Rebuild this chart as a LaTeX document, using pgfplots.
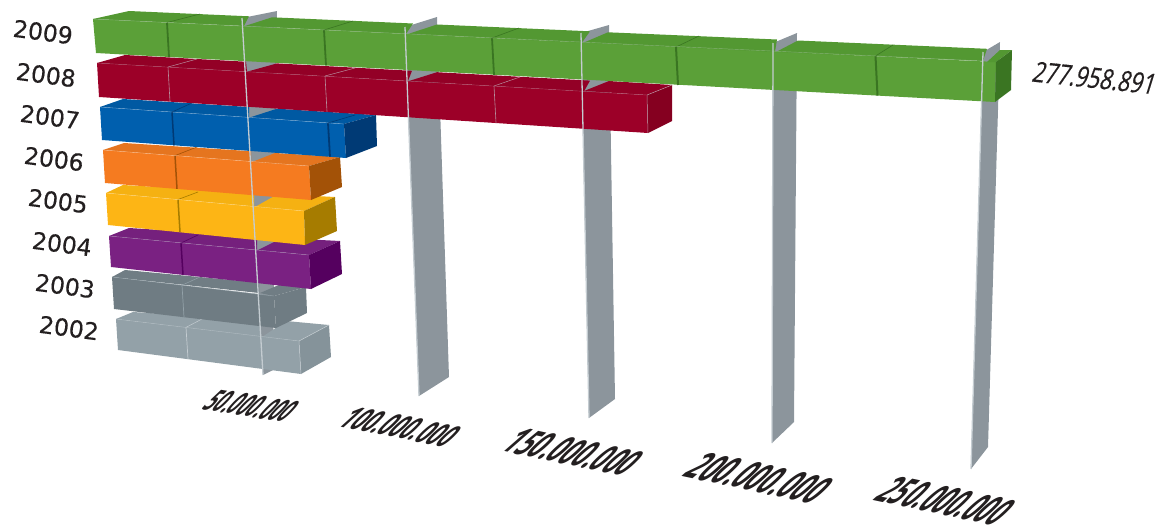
\documentclass[border=0pt]{standalone}
\usepackage{pgfplots}
\pgfplotsset{compat=1.18}
\usepackage{fontspec}
\setmainfont{Open Sans}
\newfontfamily\yearfont[FakeBold=0.35]{DejaVu Sans}
\newfontfamily\valfont[FakeBold=0.4]{Open Sans}
\definecolor{plane}{HTML}{8C959C}
\definecolor{pedge}{HTML}{C4CCD1}
\definecolor{gF}{HTML}{5BA038}\definecolor{gT}{HTML}{539832}\definecolor{gS}{HTML}{3A7522}
\definecolor{rF}{HTML}{9C0028}\definecolor{rT}{HTML}{930026}\definecolor{rS}{HTML}{850020}
\definecolor{bF}{HTML}{005FAE}\definecolor{bT}{HTML}{0059A2}\definecolor{bS}{HTML}{003A75}
\definecolor{oF}{HTML}{F57B20}\definecolor{oT}{HTML}{E5751F}\definecolor{oS}{HTML}{A35207}
\definecolor{yF}{HTML}{FDB515}\definecolor{yT}{HTML}{F5B112}\definecolor{yS}{HTML}{A67C00}
\definecolor{pF}{HTML}{7A2182}\definecolor{pT}{HTML}{75207D}\definecolor{pS}{HTML}{55005F}
\definecolor{dF}{HTML}{6F7C83}\definecolor{dT}{HTML}{707D84}\definecolor{dS}{HTML}{6F7C83}
\definecolor{lF}{HTML}{93A1A8}\definecolor{lT}{HTML}{93A1A8}\definecolor{lS}{HTML}{85939A}
\definecolor{txt}{HTML}{231F20}
\newcommand\poly[2]{\addplot[fill=#1,draw=none] coordinates {#2} -- cycle;}
\newcommand\seg[3]{\addplot[draw=#1,line width=#2] coordinates {#3};}
\newcommand\yearlab[3]{\node[rotate=-7.5,text=txt,font=\yearfont\fontsize{23.5}{24}\selectfont] at (axis cs:#1,#2) {#3};}
\newcommand\ticklab[6]{\node[rotate=#3,xslant=.62,xscale=#4,yscale=#5,transform shape,text=txt,font=\fontsize{20}{20}\selectfont\bfseries\itshape] at (axis cs:#1,#2) {#6};}
\begin{document}
\begin{tikzpicture}
\path[use as bounding box] (0,0) rectangle (1160pt,530pt);
\begin{axis}[scale only axis,width=1160pt,height=530pt,xmin=0,xmax=1160,ymin=0,ymax=530,y dir=reverse,hide axis,clip=false]
% planes
\poly{plane}{(242,18)(277,11)(273,370)(263,375)}
\poly{plane}{(405,27)(437,17)(449,377)(419,396)}
\poly{plane}{(581,33)(609,25)(615,399)(589,418)}
\poly{plane}{(773,43)(797,33)(794,422)(772,443)}
\poly{plane}{(983,52)(1000,42)(988,447)(971,469)}
% 2002
\poly{lF}{(116,319)(299,341)(301,374)(118,350)}
\poly{lT}{(116,319)(133,312)(261,320.4)(261,337)}
\poly{lT}{(262,337)(286,321)(329,325)(299,341)}
\poly{lS}{(299,341)(329,325)(331,357)(301,374)}
\seg{pedge}{.7pt}{(186,327.4)(188,359)}
\seg{pedge}{.5pt}{(186,327.4)(202,319)}
\seg{pedge!60!lF}{.4pt}{(116,319)(299,341)}
\seg{pedge}{.5pt}{(299,341)(329,325)}
\seg{pedge}{.5pt}{(299,341)(301,374)}
% 2003
\poly{dF}{(112,277)(274,296)(276,328)(114,309)}
\poly{dT}{(112,277)(125,270)(259,282.6)(259,293)}
\poly{dT}{(260,293)(281,284)(306,287)(274,296)}
\poly{dS}{(274,296)(306,287)(307,313)(276,328)}
\seg{lF}{.7pt}{(182,285.2)(184,316.9)}
\seg{lF}{.5pt}{(182,285.2)(200,277)}
\seg{lF}{.4pt}{(112,277)(274,296)}
% 2004
\poly{pF}{(109,236)(309,255)(311,289)(111,267)}
\poly{pT}{(109,236)(129,228)(257,236)(257,250)}
\poly{pT}{(258,250)(282,238)(340,241)(309,255)}
\poly{pS}{(309,255)(340,241)(342,274)(311,289)}
\seg{pS}{1.5pt}{(181,243)(183,274.7)}
\seg{pS}{.6pt}{(181,243)(198,235)}
\seg{pedge!50!pF}{.4pt}{(109,236)(309,255)}
% 2005
\poly{yF}{(106,193)(304,211)(305,245)(108,225)}
\poly{yT}{(106,193)(123,185)(254,192.4)(254,206.5)}
\poly{yT}{(255,207)(278,194)(335,197)(304,211)}
\poly{yS}{(304,211)(335,197)(337,231)(305,245)}
\seg{yS}{1.5pt}{(178,199.5)(180,232)}
\seg{yS}{.6pt}{(178,199.5)(198,192)}
\seg{white!50!yF}{.3pt}{(106,193)(304,211)}
% 2006
\poly{oF}{(103,150)(309,166)(311,200)(105,183)}
\poly{oT}{(103,150)(124,143)(251,151.2)(251,161.5)}
\poly{oT}{(252,162)(275,153)(340,157)(309,166)}
\poly{oS}{(309,166)(340,157)(342,187)(311,200)}
\seg{oS}{1.5pt}{(175,155.6)(177,188.8)}
\seg{oS}{.6pt}{(175,155.6)(197,147)}
\seg{white!50!oF}{.3pt}{(103,150)(309,166)}
% 2007
\poly{bF}{(100,107)(344,124)(346,158)(102,140)}
\poly{bT}{(100,107)(123,99)(249,107)(249,117.4)}
\poly{bT}{(250,117.4)(277,108.7)(376,115)(344,124)}
\poly{bS}{(344,124)(376,115)(377,146)(346,158)}
\seg{bS}{1.5pt}{(172,112)(174,145.3)}
\seg{bS}{.6pt}{(172,112)(192,103)}
\seg{bS}{1.8pt}{(328,123)(330,156.7)}
\seg{bS}{.6pt}{(328,123)(355,115)}
\seg{white!50!bF}{.3pt}{(100,107)(344,124)}
% 2008
\poly{rF}{(97,63)(647,95)(648,133)(99,97)}
\poly{rT}{(97,63)(125,55)(246,61.7)(247,71.7)}
\poly{rT}{(247,71.7)(277,63.4)(412,70.8)(408,81)}
\poly{rT}{(409,81)(437,72.2)(590,80.6)(584,91.4)}
\poly{rT}{(584,91)(609,81)(672,85)(647,95)}
\poly{rS}{(647,95)(672,85)(672,121)(648,133)}
\seg{pedge!70!rF}{.6pt}{(168,67)(170,101.6)}
\seg{pedge!70!rF}{.5pt}{(168,67)(197,59)}
\seg{pedge!70!rF}{.6pt}{(325,76)(327,111.6)}
\seg{pedge!70!rF}{.5pt}{(325,76)(355,68)}
\seg{pedge!70!rF}{.6pt}{(494,86)(496,122.7)}
\seg{pedge!70!rF}{.5pt}{(494,86)(520,77)}
\seg{pedge!35!rF}{.4pt}{(97,63)(647,95)}
\seg{pedge!70!rF}{.5pt}{(647,95)(672,85)}
\seg{pedge!70!rF}{.5pt}{(647,95)(648,133)}
% 2009
\poly{gF}{(93,19)(996,62)(995,102)(96,53)}
\poly{gT}{(93,19)(129,11)(249,16.3)(244,26)}
\poly{gT}{(245,26)(272,17.3)(413,23.5)(406,34)}
\poly{gT}{(408,34)(437,24.5)(590,31.3)(582,42.5)}
\poly{gT}{(584,42.5)(608,32.3)(777,39.5)(775,52)}
\poly{gT}{(776,52)(798,40.5)(987,48.8)(983,61)}
\poly{gT}{(987,62)(1000,50)(1012,50)(996,62)}
\poly{gS}{(996,62)(1012,50)(1011,90)(995,102)}
\seg{gS}{1.8pt}{(167,22.5)(169,57)}
\seg{gS}{.6pt}{(167,22.5)(200,14)}
\seg{gS}{1.8pt}{(324,30)(326,65.4)}
\seg{gS}{.6pt}{(324,30)(353,21)}
\seg{gS}{1.8pt}{(492,38)(494,75)}
\seg{gS}{.6pt}{(492,38)(519,28)}
\seg{gS}{2pt}{(676,47)(678,85)}
\seg{gS}{.6pt}{(676,47)(699,36)}
\seg{gS}{2pt}{(875.5,56)(877.5,95.5)}
\seg{gS}{.6pt}{(875.5,56)(893,45)}
\seg{pedge!40!gF}{.4pt}{(93,19)(983,61)}
% plane front edges
\seg{pedge}{1.3pt}{(242,18)(263,375)}
\seg{pedge}{1.3pt}{(405,27)(419,396)}
\seg{pedge}{1.3pt}{(581,33)(589,418)}
\seg{pedge}{1.3pt}{(773,43)(772,443)}
\seg{pedge}{1.3pt}{(983,52)(971,469)}
% labels
\yearlab{43}{32}{2009}
\yearlab{46}{75}{2008}
\yearlab{50}{117}{2007}
\yearlab{54}{159}{2006}
\yearlab{58}{201}{2005}
\yearlab{62}{244}{2004}
\yearlab{65}{286}{2003}
\yearlab{69}{328}{2002}
\node[rotate=-6,xslant=.2,xscale=.8,yscale=1.05,transform shape,text=txt,font=\valfont\fontsize{27}{27}\selectfont] at (axis cs:1095,78) {277.958.891};
\ticklab{251}{406}{-9}{.84}{1.55}{50.000.000}
\ticklab{400}{427}{-11}{.99}{1.6}{100.000.000}
\ticklab{573}{452}{-12}{1.14}{1.9}{150.000.000}
\ticklab{759}{478}{-12}{1.2}{2.0}{200.000.000}
\ticklab{946}{501}{-12}{1.12}{2.0}{250.000.000}
\end{axis}
\end{tikzpicture}
\end{document}
